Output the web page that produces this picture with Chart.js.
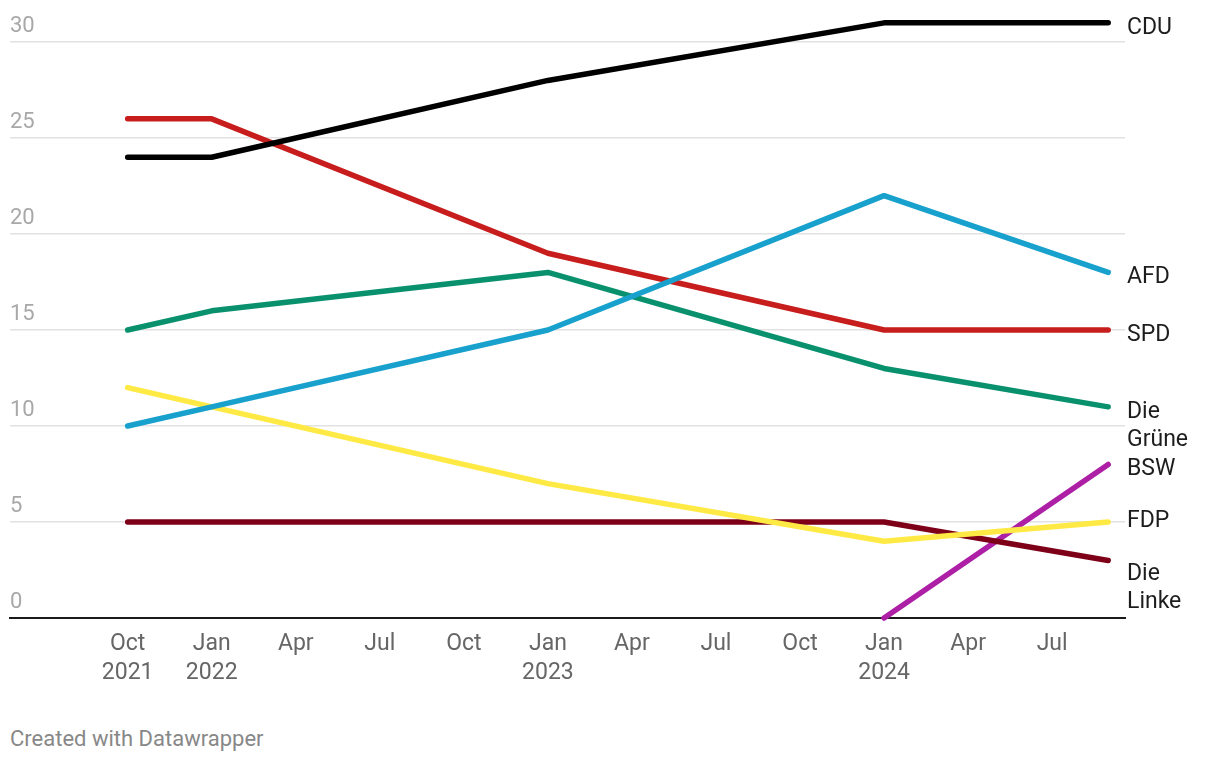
<!DOCTYPE html>
<html>
<head>
<meta charset="utf-8">
<script src="https://cdn.jsdelivr.net/npm/chart.js@4"></script>
<style>
  body { margin: 0; background: #fff; font-family: Roboto, sans-serif; }
  #wrap { position: relative; width: 1220px; height: 720px; }
  #credit { position: absolute; left: 10px; top: 726px; font-size: 22px; color: #888888; }
</style>
</head>
<body>
<div id="wrap"><canvas id="pollChart"></canvas></div>
<div id="credit">Created with Datawrapper</div>
<script>
// months counted from Oct 2021
const pollMonths = [0, 3, 15, 27, 35];

const cdu   = [24, 24, 28, 31, 31];
const spd   = [26, 26, 19, 15, 15];
const afd   = [10, 11, 15, 22, 18];
const gruene = [15, 16, 18, 13, 11];
const fdp   = [12, 11, 7, 4, 5];
const linke = [5, 5, 5, 5, 3];
const bsw   = [null, null, null, 0, 8];

const tickMonths = [0, 3, 6, 9, 12, 15, 18, 21, 24, 27, 30, 33];
const tickLabels = [["Oct", "2021"], ["Jan", "2022"], "Apr", "Jul", "Oct", ["Jan", "2023"],
                    "Apr", "Jul", "Oct", ["Jan", "2024"], "Apr", "Jul"];
const yTicks = [0, 5, 10, 15, 20, 25, 30];

function toPoints(values) {
    return pollMonths.map((m, i) => ({ x: m, y: values[i] })).filter(p => p.y !== null);
}

// label nudges so the end labels do not collide
const labelNudge = { "FDP": -6, "Die Linke": 9 };

const endLabels = {
    id: "endLabels",
    afterDatasetsDraw(chart) {
        const ctx = chart.ctx;
        ctx.save();
        ctx.font = "23px Roboto";
        ctx.fillStyle = "#1d1d1d";
        ctx.textAlign = "left";
        ctx.textBaseline = "middle";
        chart.data.datasets.forEach((ds, i) => {
            const meta = chart.getDatasetMeta(i);
            const last = meta.data[meta.data.length - 1];
            const lines = ds.label.split(" ");
            let y = last.y + 5 + (labelNudge[ds.label] || 0);
            lines.forEach((t, j) => {
                ctx.fillText(t, chart.chartArea.right + 2, y + j * 28);
            });
        });
        ctx.restore();
    }
};

const lineWidth = 5.5;

function series(label, values, color) {
    return {
        label: label,
        data: toPoints(values),
        borderColor: color,
        backgroundColor: color,
        borderWidth: lineWidth,
        borderCapStyle: "round",
        borderJoinStyle: "round",
        pointRadius: 0,
        tension: 0,
        clip: false
    };
}

new Chart(document.getElementById("pollChart"), {
    type: "line",
    data: {
        datasets: [
            series("CDU", cdu, "#000000"),
            series("AFD", afd, "#18a1cd"),
            series("SPD", spd, "#c71e1d"),
            series("Die Grüne", gruene, "#09916d"),
            series("FDP", fdp, "#ffea45"),
            series("Die Linke", linke, "#7e0018"),
            series("BSW", bsw, "#ad20a6")
        ]
    },
    options: {
        responsive: true,
        maintainAspectRatio: false,
        animation: false,
        layout: { padding: { left: 10, right: 95, top: 19, bottom: 20 } },
        plugins: {
            legend: { display: false },
            tooltip: { enabled: false }
        },
        scales: {
            x: {
                type: "linear",
                min: -4.2,
                max: 35.6,
                afterBuildTicks: axis => { axis.ticks = tickMonths.map(v => ({ value: v })); },
                grid: { display: false, drawTicks: false },
                border: { display: true, color: "#1a1a1a", width: 2 },
                ticks: {
                    padding: 12,
                    color: "#666666",
                    font: { family: "Roboto", size: 23, lineHeight: 1.26 },
                    maxRotation: 0,
                    autoSkip: false,
                    callback: v => tickLabels[tickMonths.indexOf(v)]
                }
            },
            y: {
                min: 0,
                max: 31.2,
                afterBuildTicks: axis => { axis.ticks = yTicks.map(v => ({ value: v })); },
                border: { display: false },
                grid: {
                    drawTicks: false,
                    color: ctx => ctx.tick && ctx.tick.value === 0 ? "rgba(0,0,0,0)" : "#e2e2e2",
                    lineWidth: 1.5
                },
                ticks: {
                    mirror: true,
                    padding: 0,
                    labelOffset: -16,
                    color: "#a8a8a8",
                    font: { family: "Roboto", size: 22 }
                }
            }
        }
    },
    plugins: [endLabels]
});
</script>
</body>
</html>
